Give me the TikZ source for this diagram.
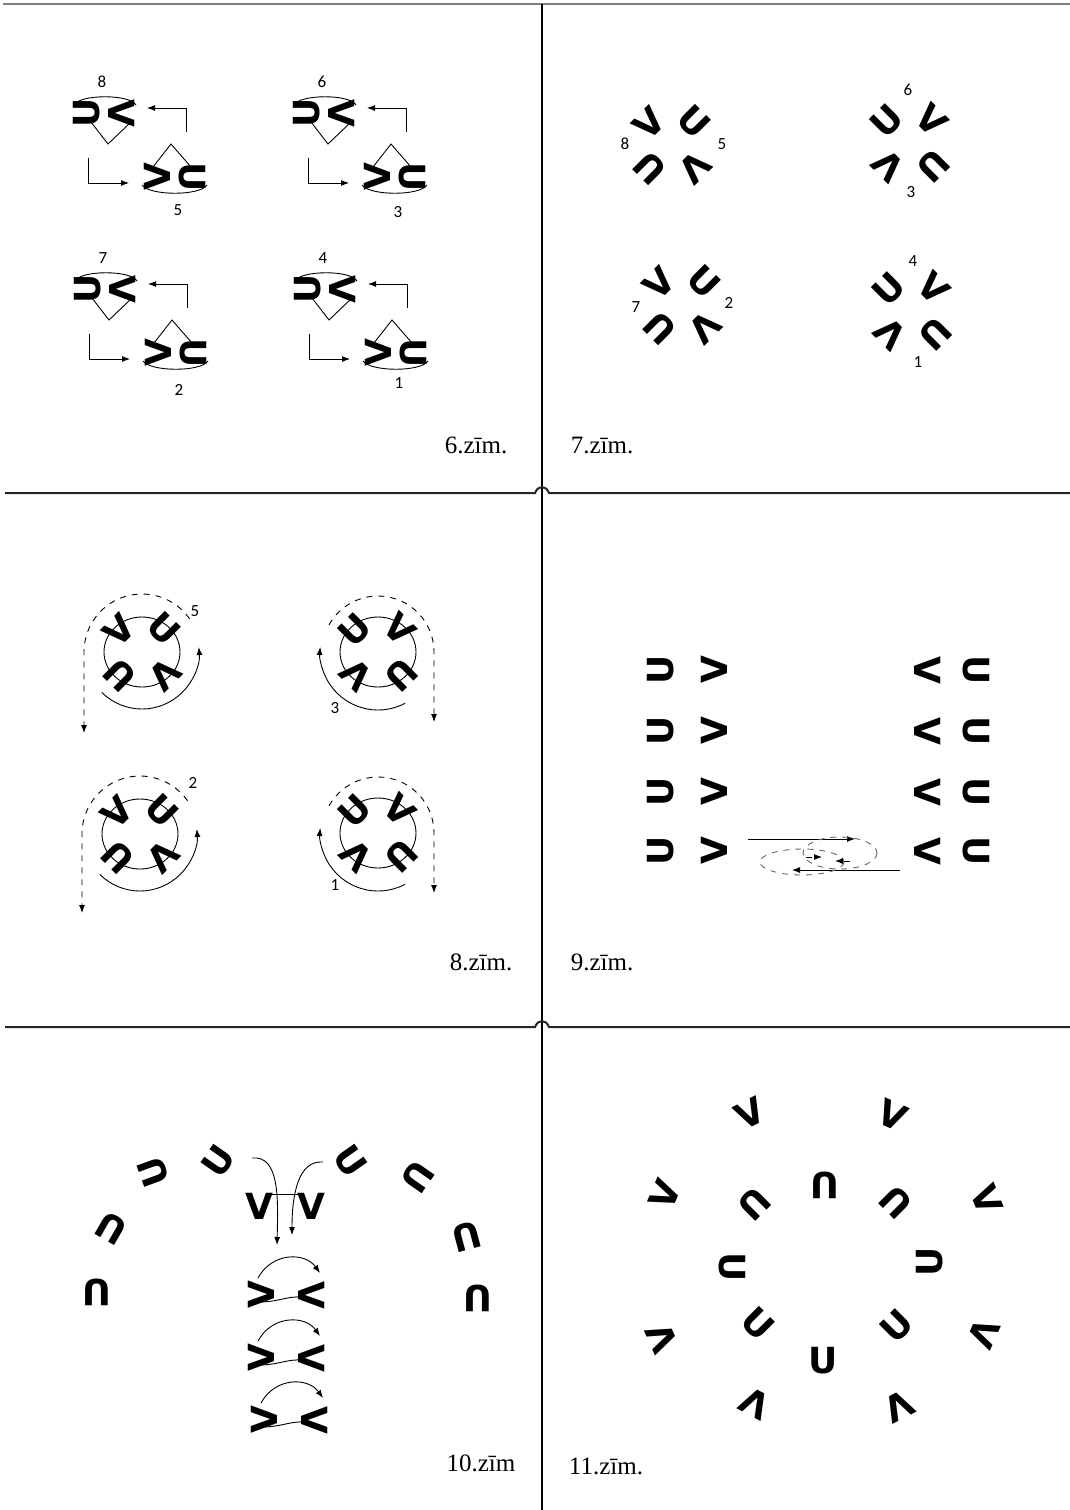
\documentclass[tikz,border=0pt]{standalone}
\usepackage{fontspec}
\setmainfont{Liberation Serif}
\newfontfamily\glyphfam{DejaVu Sans}
\newfontfamily\numfam{Carlito}
\usetikzlibrary{arrows.meta}

\begin{document}
\begin{tikzpicture}[x=0.5pt, y=-0.5pt,
    glyph/.style={inner sep=0pt, font=\glyphfam\bfseries\fontsize{18}{18}\selectfont},
    num/.style={inner sep=0pt, font=\numfam\fontsize{8.5}{8.5}\selectfont},
    figlabel/.style={inner sep=0pt, font=\fontsize{12.5}{12.5}\selectfont},
    fine/.style={line width=0.45pt},
    arr/.style={-{Latex[length=4pt,width=3pt]}},
    frame/.style={line width=1pt}]

    \useasboundingbox (0,0) rectangle (1070,1510);

    % Frame
    \draw[frame, black!50] (3,4) -- (1070,4);
    \draw[frame] (542,4) -- (542,1510);
    \foreach \y in {493,1027} {
      \draw[frame, black!85] (5,\y) -- (535,\y) .. controls (538,\y-8) and (546,\y-8) .. (549,\y) -- (1070,\y);
    }

    % 6.zim: four pairs with turning arrows
    \foreach \dx/\dy/\ta/\tb/\by [count=\i] in {0/0/8/5/210, 220/0/6/3/212, 1/176/7/2/214, 221/176/4/1/207} {
      \begin{scope}[shift={(\dx,\dy)}]
        \node[glyph, rotate=90] (s6a\i) at (87,113) {U};
        \node[glyph, rotate=-90] (s6b\i) at (122,113) {V};
        \node[glyph, rotate=90] (s6c\i) at (157,177) {V};
        \node[glyph, rotate=-90] (s6d\i) at (192,177) {U};
        \draw[fine] (74,105) .. controls (80,94) and (130,94) .. (136,105);
        \draw[fine] (91,122) -- (108,144) -- (131,122);
        \draw[fine] (153,167) -- (171,144) -- (191,167);
        \draw[fine] (142,185) .. controls (150,196) and (200,196) .. (207,185);
        \draw[fine, arr] (186,132) -- (186,108) -- (147,108);
        \draw[fine, arr] (88,158) -- (88,183) -- (129,183);
        \node[num] (t6a\i) at (102,82) {\ta};
        \node[num] (t6b\i) at (178,\by) {\tb};
      \end{scope}
    }

    % 7.zim: four crosses
    \foreach \cx/\cy/\p/\q [count=\i] in {672/145/V/U, 682/305/V/U, 910/143/U/V, 912/311/U/V} {
      \node[glyph, rotate=45] (k7a\i) at (\cx-23,\cy-22) {\p};
      \node[glyph, rotate=-45] (k7b\i) at (\cx+22,\cy-23) {\q};
      \node[glyph, rotate=135] (k7c\i) at (\cx-22,\cy+23) {\q};
      \node[glyph, rotate=-135] (k7d\i) at (\cx+23,\cy+23) {\p};
    }
    \foreach \n/\x/\y in {8/625/144, 5/722/144, 7/636/307, 2/729/303, 6/908/90, 3/911/192, 4/913/261, 1/918/362}
      \node[num] (t7\n) at (\x,\y) {\n};

    % 8.zim: crosses in circles
    \foreach \cx/\cy/\p/\q/\n/\lx/\ly [count=\i] in {142/652/V/U/5/53/-41, 140/834/V/U/2/53/-51, 378/652/U/V/3/-43/56, 378/833/U/V/1/-43/52} {
      \draw[fine] (\cx,\cy) ellipse[x radius=38, y radius=35];
      \node[glyph, rotate=45] (k8a\i) at (\cx-23,\cy-22) {\p};
      \node[glyph, rotate=-45] (k8b\i) at (\cx+22,\cy-23) {\q};
      \node[glyph, rotate=135] (k8c\i) at (\cx-22,\cy+23) {\q};
      \node[glyph, rotate=-135] (k8d\i) at (\cx+23,\cy+23) {\p};
      \node[num] (t8\n) at (\cx+\lx,\cy+\ly) {\n};
    }
    \foreach \cx/\cy/\ty in {142/652/733, 140/834/913} {
      \draw[fine, arr] (\cx,\cy) ++(135:57) arc[start angle=135, end angle=-5, radius=57];
      \draw[fine, dashed, arr] (\cx,\cy) ++(-35:58) arc[start angle=-35, end angle=-180, radius=58] -- (\cx-58,\ty);
    }
    \foreach \cx/\cy/\ty in {378/652/722, 378/833/893} {
      \draw[fine, arr] (\cx,\cy) ++(62:58) arc[start angle=62, end angle=185, radius=58];
      \draw[fine, dashed, arr] (\cx,\cy) ++(209:56) arc[start angle=209, end angle=360, radius=56] -- (\cx+56,\ty);
    }

    % 9.zim: two columns
    \foreach \y [count=\i] in {670,731,792,851} {
      \node[glyph, rotate=90] (l9a\i) at (661,\y) {U};
      \node[glyph, rotate=90] (l9b\i) at (714,\y) {V};
      \node[glyph, rotate=-90] (r9a\i) at (928,\y) {V};
      \node[glyph, rotate=-90] (r9b\i) at (976,\y) {U};
    }
    \draw[fine, arr] (748,839) -- (855,839);
    \draw[fine, arr] (900,870) -- (792,870);
    \draw[fine, dashed, black!60] (802,862) ellipse[x radius=42, y radius=13];
    \draw[fine, dashed, black!60] (840,853) ellipse[x radius=37, y radius=16];
    \draw[fine, dashed, arr] (806,857) -- (822,857);
    \draw[fine, dashed, arr] (850,861) -- (835,861);

    % 10.zim: arc of U and the column
    \foreach \x/\y/\r [count=\i] in {97/1292/180, 111/1228/150, 153/1172/110, 218/1161/55,
                                     350/1161/-55, 418/1177/-125, 467/1237/-165, 478/1298/180}
      \node[glyph, rotate=\r] (u10\i) at (\x,\y) {U};
    \node[glyph] (v10a) at (259,1206) {V};
    \node[glyph] (v10b) at (311,1206) {V};
    \draw[fine] (270,1194) -- (300,1194);
    \draw[fine, arr] (252,1158) .. controls (280,1155) and (278,1200) .. (277,1245);
    \draw[fine, arr] (323,1162) .. controls (298,1160) and (292,1195) .. (292,1235);
    \foreach \y/\s [count=\i] in {1295/0, 1358/0, 1420/3} {
      \node[glyph, rotate=90] (p10\i) at (261+\s,\y) {V};
      \node[glyph, rotate=-90] (q10\i) at (312+\s,\y) {V};
      \draw[fine] (258+\s,\y+7) .. controls (280+\s,\y+7) and (285+\s,\y+1) .. (303+\s,\y+2);
      \draw[fine, arr] (258+\s,\y-17) .. controls (272+\s,\y-43) and (305+\s,\y-43) .. (320+\s,\y-22);
    }

    % 11.zim: two rings
    \foreach \x/\y/\r [count=\i] in {825/1185/180, 896/1202/135, 930/1262/90, 897/1326/45,
                                     823/1361/0, 758/1324/-45, 732/1267/-90, 754/1204/-135}
      \node[glyph, rotate=\r] (u11\i) at (\x,\y) {U};
    \foreach \x/\y/\r [count=\i] in {750/1113/27, 893/1115/-24, 987/1199/-68, 984/1334/-114,
                                     899/1406/-153, 755/1404/152, 662/1338/114, 665/1195/67}
      \node[glyph, rotate=\r] (v11\i) at (\x,\y) {V};

    % Captions
    \node[figlabel] (c6) at (476,445) {6.zīm.};
    \node[figlabel] (c7) at (602,445) {7.zīm.};
    \node[figlabel] (c8) at (481,962) {8.zīm.};
    \node[figlabel] (c9) at (602,962) {9.zīm.};
    \node[figlabel] (c10) at (481,1463) {10.zīm};
    \node[figlabel] (c11) at (606,1466) {11.zīm.};
  \end{tikzpicture}
\end{document}
